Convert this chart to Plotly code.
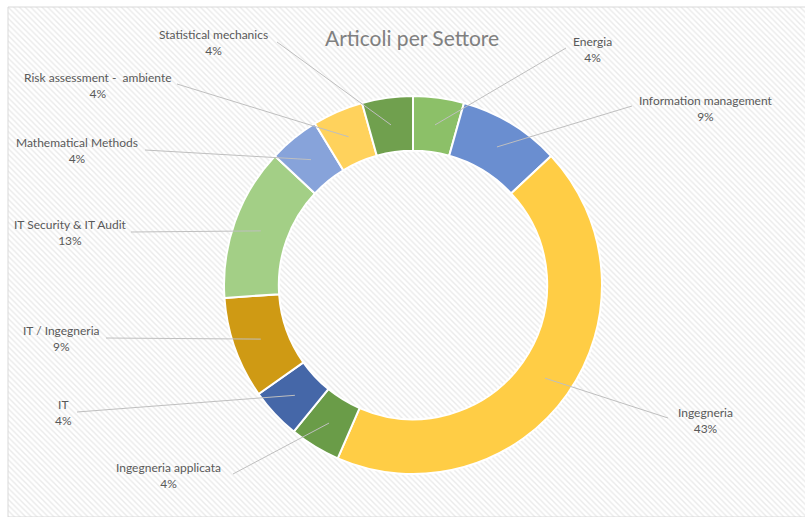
import math
import plotly.graph_objects as go

# ---- data ----
categories = ["Energia", "Information management", "Ingegneria", "Ingegneria applicata",
              "IT", "IT / Ingegneria", "IT Security & IT Audit", "Mathematical Methods",
              "Risk assessment -  ambiente", "Statistical mechanics"]
counts = [1, 2, 10, 1, 1, 2, 3, 1, 1, 1]
colors = ["#8cc068", "#6a8ed0", "#ffcd45", "#6a9c48", "#4567a8",
          "#cf9a14", "#a3cf86", "#87a3da", "#ffd25c", "#70a04e"]
title_text = "Articoli per Settore"

# label layout (pixel positions of label centre and leader-line start)
label_pos = [(592, 50), (706, 108), (705, 420), (168, 475), (63, 412),
             (62, 338), (70, 232), (77, 151), (98, 85), (214, 42)]
line_start = [(566, 48), (632, 106), (668, 418), (233, 474), (77, 412),
              (106, 338), (131, 232), (145, 150), (177, 84), (277, 42)]

W, H = 805, 517
CX, CY, R_OUT = 413, 285, 189
HOLE = 0.71
R_MID = R_OUT * (1 + HOLE) / 2


def px(x):
    return x / W


def py(y):
    return 1 - y / H


fig = go.Figure()

# hatched background
fig.add_trace(go.Bar(
    x=[0], y=[1], width=[1], xaxis="x", yaxis="y",
    marker=dict(color="white", line_width=0,
                pattern=dict(shape="\\", fgcolor="#d6d6d6", bgcolor="white",
                             size=4, solidity=0.35)),
    hoverinfo="skip", showlegend=False))

fig.add_trace(go.Pie(
    labels=categories, values=counts, sort=False, direction="clockwise",
    rotation=0, hole=HOLE, textinfo="none",
    marker=dict(colors=colors, line=dict(color="white", width=2)),
    domain=dict(x=[px(CX - R_OUT), px(CX + R_OUT)], y=[py(CY + R_OUT), py(CY - R_OUT)]),
    showlegend=False, hoverinfo="label+percent"))

total = sum(counts)
shapes = []
annotations = []
cum = 0
for name, v, (lx, ly), (sx, sy) in zip(categories, counts, label_pos, line_start):
    ang = 2 * math.pi * (cum + v / 2) / total
    cum += v
    ex = CX + R_MID * math.sin(ang)
    ey = CY - R_MID * math.cos(ang)
    shapes.append(dict(type="line", xref="paper", yref="paper",
                       x0=px(sx), y0=py(sy), x1=px(ex), y1=py(ey),
                       line=dict(color="#bfbfbf", width=1), layer="above"))
    pct = round(v / total * 100)
    annotations.append(dict(xref="paper", yref="paper", x=px(lx), y=py(ly),
                            text=f"{name}<br>{pct}%", showarrow=False,
                            xanchor="center", yanchor="middle",
                            font=dict(family="Lato", size=12, color="#595959")))

# frame border
shapes.append(dict(type="rect", xref="paper", yref="paper",
                   x0=px(8), y0=0, x1=1.2, y1=py(7),
                   line=dict(color="#d9d9d9", width=1), fillcolor="rgba(0,0,0,0)",
                   layer="above"))

annotations.append(dict(xref="paper", yref="paper", x=px(412), y=py(38),
                        text=title_text, showarrow=False, xanchor="center", yanchor="middle",
                        font=dict(family="Lato", size=21, color="#808080")))

fig.update_layout(
    width=W, height=H, margin=dict(l=0, r=0, t=0, b=0),
    paper_bgcolor="white", plot_bgcolor="rgba(0,0,0,0)",
    xaxis=dict(domain=[px(8), 1], range=[-0.5, 0.5], visible=False, fixedrange=True),
    yaxis=dict(domain=[0, py(7)], range=[0, 1], visible=False, fixedrange=True),
    bargap=0, shapes=shapes, annotations=annotations,
)

fig.write_html("out.html")
